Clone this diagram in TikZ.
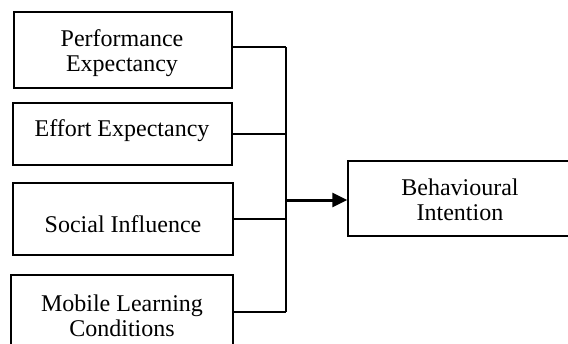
\documentclass[tikz,border=0pt]{standalone}
\usepackage{fontspec}
\setmainfont{Liberation Serif}
\usetikzlibrary{arrows.meta}
\begin{document}
\begin{tikzpicture}[x=1pt,y=-1pt,
  box/.style={draw=black, line width=1.5pt, rectangle, inner sep=0pt},
  lbl/.style={font=\fontsize{24}{25}\selectfont, align=center, inner sep=0pt},
  wire/.style={line width=1.6pt},
  mainarrow/.style={line width=3pt, -{Triangle[length=15pt,width=14pt]}}]
\useasboundingbox (0,0) rectangle (568,343);
\clip (0,0) rectangle (568,343);
% boxes
\node[box, minimum width=218pt, minimum height=76pt] (b1) at (123,50) {};
\node[box, minimum width=219pt, minimum height=62pt] (b2) at (122.5,134) {};
\node[box, minimum width=220pt, minimum height=72pt] (b3) at (123,219) {};
\node[box, minimum width=222pt, minimum height=90pt] (b4) at (122,320) {};
\node[box, minimum width=232pt, minimum height=75pt] (b5) at (464,198.5) {};
% texts
\node[lbl] (t1) at (122,53) {Performance\\Expectancy};
\node[lbl] (t2) at (122,131) {Effort Expectancy};
\node[lbl] (t3) at (123,224) {Social Influence};
\node[lbl] (t4) at (122,316) {Mobile Learning\\Conditions};
\node[lbl] (t5) at (460,200) {Behavioural\\Intention};
% bus
\coordinate (j1) at (286,47);
\coordinate (j2) at (286,134);
\coordinate (j3) at (286,219);
\coordinate (j4) at (286,312);
\coordinate (jm) at (286,200);
\draw[wire] (b1.east |- j1) -- (j1);
\draw[wire] (b2.east |- j2) -- (j2);
\draw[wire] (b3.east |- j3) -- (j3);
\draw[wire] (b4.east |- j4) -- (j4);
\draw[wire] (j1) -- (j4);
\draw[mainarrow] (jm) -- (b5.west |- jm);
\end{tikzpicture}
\end{document}
